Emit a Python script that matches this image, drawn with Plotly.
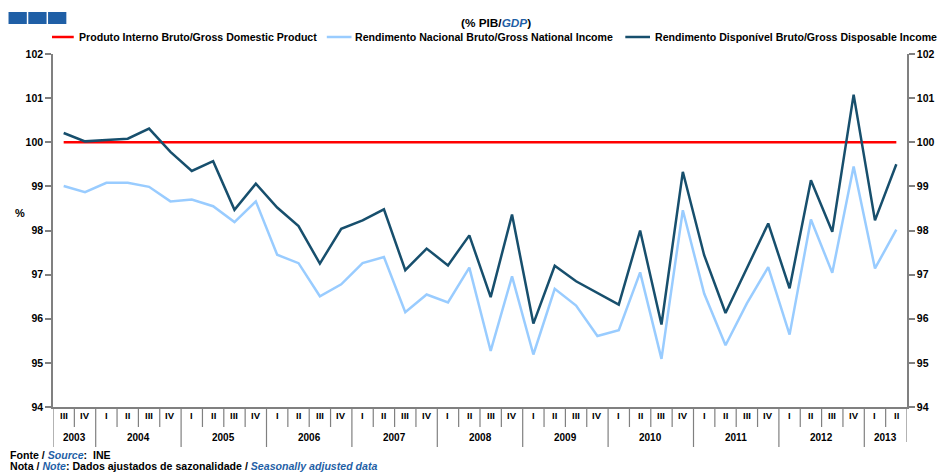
import plotly.graph_objects as go

quarters = ["III", "IV"] + ["I", "II", "III", "IV"] * 9 + ["I", "II"]
years = ["2003"] * 2 + [str(y) for y in range(2004, 2013) for _ in range(4)] + ["2013"] * 2

gdp = [100.0] * 40
gni = [99.01, 98.87, 99.08, 99.08, 98.99, 98.66, 98.70, 98.55, 98.19, 98.66,
       97.45, 97.26, 96.51, 96.78, 97.26, 97.40, 96.15, 96.55, 96.37, 97.16,
       95.27, 96.96, 95.19, 96.68, 96.30, 95.61, 95.74, 97.05, 95.09, 98.46,
       96.57, 95.40, 96.35, 97.17, 95.64, 98.25, 97.04, 99.45, 97.14, 98.02]
gdi = [100.21, 100.02, 100.05, 100.08, 100.31, 99.78, 99.35, 99.57, 98.47, 99.06,
       98.52, 98.10, 97.25, 98.04, 98.23, 98.48, 97.10, 97.59, 97.21, 97.89,
       96.49, 98.36, 95.89, 97.20, 96.85, 96.58, 96.32, 98.00, 95.87, 99.33,
       97.44, 96.13, 97.15, 98.16, 96.69, 99.14, 97.97, 101.08, 98.23, 99.50]

series_names = ["Produto Interno Bruto/Gross Domestic Product",
                "Rendimento Nacional Bruto/Gross National Income",
                "Rendimento Disponível Bruto/Gross Disposable Income"]
colors = ["#FF0000", "#99CCFF", "#174F6D"]

x = list(range(len(quarters)))
FONT = "Liberation Sans, Arial, sans-serif"

fig = go.Figure()
fig.add_trace(go.Scatter(x=x, y=gdp, mode="lines", line=dict(color=colors[0], width=2.5),
                         name=series_names[0], showlegend=False))
fig.add_trace(go.Scatter(x=x, y=gni, mode="lines", line=dict(color=colors[1], width=2.5),
                         name=series_names[1], showlegend=False))
fig.add_trace(go.Scatter(x=x, y=gdi, mode="lines", line=dict(color=colors[2], width=2.5),
                         name=series_names[2], showlegend=False))
# invisible trace to activate right axis
fig.add_trace(go.Scatter(x=x, y=gdp, mode="lines", line=dict(color="rgba(0,0,0,0)", width=0),
                         yaxis="y2", showlegend=False, hoverinfo="skip"))

# page body has an 8px margin: figure is placed at (8, 8) in the window
OFF = 8
WIN_W, WIN_H = 947, 472
W, H = WIN_W - OFF, WIN_H - OFF
# plot area in window pixels: x 53..917, y 54..407
ml = 53 - OFF
mt = 54 - OFF
mr = WIN_W - 917
mb = WIN_H - 407
ph = H - mt - mb
pw = W - ml - mr

axis_common = dict(range=[94, 102], dtick=1, tick0=94, showgrid=False, zeroline=False,
                   showline=True, linecolor="#808080", linewidth=1.5,
                   ticks="outside", ticklen=6, tickcolor="#808080", tickwidth=1.5,
                   tickfont=dict(family=FONT, size=10.5, color="#000000"))

fig.update_layout(
    width=W, height=H, margin=dict(l=ml, r=mr, t=mt, b=mb),
    paper_bgcolor="white", plot_bgcolor="white",
    xaxis=dict(range=[-0.5, len(quarters) - 0.5], showticklabels=False, ticks="",
               showgrid=False, zeroline=False, showline=True, linecolor="#808080",
               linewidth=1.5),
    yaxis=dict(**axis_common, side="left", tickprefix="<b>", ticksuffix="</b>"),
    yaxis2=dict(**axis_common, side="right", overlaying="y", tickprefix="<b>", ticksuffix="</b>"),
    showlegend=False,
)

shapes = []
annotations = []
def py(pix):
    # window pixel y (from top) to paper coordinates
    return (WIN_H - mb - pix) / ph
def px(pix):
    return (pix - 53) / pw

# category separators
n = len(quarters)
for k in range(0, n + 1):
    if k == 0 or k == n or quarters[k] == "I":
        bottom = 447 if k != n else 442
    else:
        bottom = 427
    shapes.append(dict(type="line", xref="x", yref="paper", x0=k - 0.5, x1=k - 0.5,
                       y0=0, y1=py(bottom), line=dict(color="#808080", width=1.2)))

for k, q in enumerate(quarters):
    annotations.append(dict(x=k, y=py(416), xref="x", yref="paper", text="<b>" + q + "</b>",
                            showarrow=False, font=dict(family=FONT, size=9.5, color="#000"),
                            xanchor="center", yanchor="middle"))
uniq = []
for yv in years:
    if yv not in uniq:
        uniq.append(yv)
for yv in uniq:
    idx = [i for i, v in enumerate(years) if v == yv]
    annotations.append(dict(x=sum(idx) / len(idx), y=py(437), xref="x", yref="paper",
                            text="<b>" + yv + "</b>", showarrow=False,
                            font=dict(family=FONT, size=10, color="#000"),
                            xanchor="center", yanchor="middle"))

# % label
annotations.append(dict(x=px(20), y=py(213), xref="paper", yref="paper", text="<b>%</b>",
                        showarrow=False, font=dict(family=FONT, size=11, color="#000"),
                        xanchor="center", yanchor="middle"))

# title
annotations.append(dict(x=px(501), y=py(23), xref="paper", yref="paper",
                        text="<b>(% PIB/<i><span style='color:#1F5FA6'>GDP</span></i>)</b>",
                        showarrow=False, font=dict(family=FONT, size=11.8, color="#000"),
                        xanchor="center", yanchor="middle"))

# custom legend
leg = [(52, 74, 77), (330, 355, 357), (632, 657, 660)]
for (x0, x1, tx), name, c in zip(leg, series_names, colors):
    shapes.append(dict(type="line", xref="paper", yref="paper", x0=px(x0), x1=px(x1),
                       y0=py(37), y1=py(37), line=dict(color=c, width=2.5)))
    annotations.append(dict(x=px(tx), y=py(37), xref="paper", yref="paper",
                            text="<b>" + name + "</b>", showarrow=False,
                            font=dict(family=FONT, size=10.6, color="#000"),
                            xanchor="left", yanchor="middle"))

# logo squares
for i in range(3):
    shapes.append(dict(type="rect", xref="paper", yref="paper",
                       x0=px(8 + i * 20), x1=px(8 + i * 20 + 18.5),
                       y0=py(24), y1=py(12), fillcolor="#1F5FA6", line=dict(width=0)))

# footer
annotations.append(dict(x=px(7), y=py(455), xref="paper", yref="paper",
                        text="<b>Fonte / <i><span style='color:#1F5FA6'>Source</span></i>:  INE</b>",
                        showarrow=False, font=dict(family=FONT, size=10.6, color="#000"),
                        xanchor="left", yanchor="middle"))
annotations.append(dict(x=px(7), y=py(466), xref="paper", yref="paper",
                        text="<b>Nota / <i><span style='color:#1F5FA6'>Note</span></i>: Dados ajustados de sazonalidade / <i><span style='color:#1F5FA6'>Seasonally adjusted data</span></i></b>",
                        showarrow=False, font=dict(family=FONT, size=10.6, color="#000"),
                        xanchor="left", yanchor="middle"))

fig.update_layout(shapes=shapes, annotations=annotations)
fig.write_html("out.html")
